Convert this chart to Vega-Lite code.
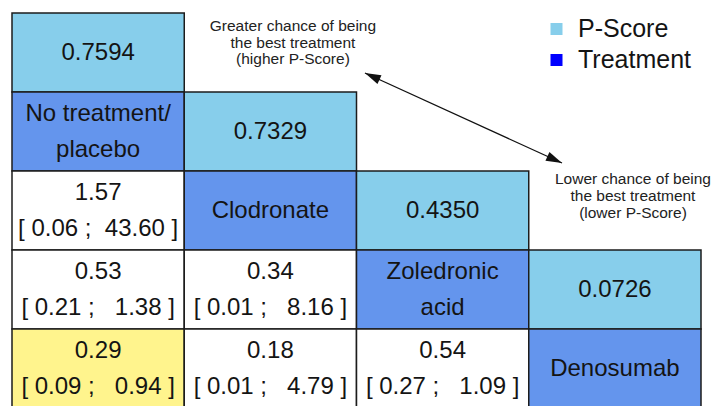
{
  "$schema": "https://vega.github.io/schema/vega-lite/v6.json",
  "width": 689,
  "height": 395,
  "autosize": {"type": "none"},
  "padding": {"left": 12, "top": 13, "right": 12, "bottom": 0},
  "background": "white",
  "config": {"view": {"stroke": null}, "font": "Liberation Sans"},
  "datasets": {
    "cells": [
      {"col": 0, "row": 0, "kind": "P-Score", "label": "0.7594"},
      {"col": 0, "row": 1, "kind": "Treatment", "label": ["No treatment/", "placebo"]},
      {"col": 1, "row": 1, "kind": "P-Score", "label": "0.7329"},
      {"col": 0, "row": 2, "kind": "Comparison", "label": ["1.57", "[\u00a00.06\u00a0;\u00a0\u00a043.60\u00a0]"]},
      {"col": 1, "row": 2, "kind": "Treatment", "label": "Clodronate"},
      {"col": 2, "row": 2, "kind": "P-Score", "label": "0.4350"},
      {"col": 0, "row": 3, "kind": "Comparison", "label": ["0.53", "[\u00a00.21\u00a0;\u00a0\u00a0\u00a01.38\u00a0]"]},
      {"col": 1, "row": 3, "kind": "Comparison", "label": ["0.34", "[\u00a00.01\u00a0;\u00a0\u00a0\u00a08.16\u00a0]"]},
      {"col": 2, "row": 3, "kind": "Treatment", "label": ["Zoledronic", "acid"]},
      {"col": 3, "row": 3, "kind": "P-Score", "label": "0.0726"},
      {"col": 0, "row": 4, "kind": "Significant", "label": ["0.29", "[\u00a00.09\u00a0;\u00a0\u00a0\u00a00.94\u00a0]"]},
      {"col": 1, "row": 4, "kind": "Comparison", "label": ["0.18", "[\u00a00.01\u00a0;\u00a0\u00a0\u00a04.79\u00a0]"]},
      {"col": 2, "row": 4, "kind": "Comparison", "label": ["0.54", "[\u00a00.27\u00a0;\u00a0\u00a0\u00a01.09\u00a0]"]},
      {"col": 3, "row": 4, "kind": "Treatment", "label": "Denosumab"}
    ]
  },
  "layer": [
    {
      "data": {"name": "cells"},
      "encoding": {
        "x": {"field": "col", "type": "ordinal", "scale": {"domain": [0, 1, 2, 3], "paddingInner": 0, "paddingOuter": 0}, "axis": null},
        "y": {"field": "row", "type": "ordinal", "scale": {"domain": [0, 1, 2, 3, 4], "paddingInner": 0, "paddingOuter": 0}, "axis": null}
      },
      "layer": [
        {
          "mark": {"type": "rect", "stroke": "#1c1c1c", "strokeWidth": 1.5},
          "encoding": {
            "fill": {
              "field": "kind",
              "type": "nominal",
              "scale": {
                "domain": ["P-Score", "Treatment", "Comparison", "Significant"],
                "range": ["#87CEEB", "#6495ED", "#FFFFFF", "#FFF48D"]
              },
              "legend": null
            }
          }
        },
        {
          "transform": [{"filter": "!isArray(datum.label)"}],
          "mark": {"type": "text", "fontSize": 24, "baseline": "middle", "align": "center", "color": "#141414"},
          "encoding": {"text": {"field": "label"}}
        },
        {
          "transform": [{"filter": "isArray(datum.label)"}],
          "mark": {"type": "text", "fontSize": 24, "lineHeight": 36, "baseline": "middle", "align": "center", "color": "#141414", "dy": -18},
          "encoding": {"text": {"field": "label"}}
        }
      ]
    },
    {
      "data": {"values": [{"note": "P-Score direction"}]},
      "layer": [
        {
          "mark": {"type": "rule", "color": "#111111", "strokeWidth": 1.2},
          "encoding": {
            "x": {"datum": 2.049, "type": "quantitative", "scale": {"domain": [0, 4], "nice": false, "zero": false}, "axis": null},
            "y": {"datum": 0.759, "type": "quantitative", "scale": {"domain": [0, 5], "nice": false, "zero": false, "reverse": true}, "axis": null},
            "x2": {"datum": 3.193},
            "y2": {"datum": 1.899}
          }
        },
        {
          "mark": {"type": "point", "shape": "M0,0L-2,-0.6L-2,0.6Z", "size": 256, "filled": true, "color": "#111111", "opacity": 1, "strokeWidth": 0, "angle": 24.56},
          "encoding": {
            "x": {"datum": 3.193, "type": "quantitative", "scale": {"domain": [0, 4], "nice": false, "zero": false}, "axis": null},
            "y": {"datum": 1.899, "type": "quantitative", "scale": {"domain": [0, 5], "nice": false, "zero": false, "reverse": true}, "axis": null}
          }
        },
        {
          "mark": {"type": "point", "shape": "M0,0L-2,-0.6L-2,0.6Z", "size": 256, "filled": true, "color": "#111111", "opacity": 1, "strokeWidth": 0, "angle": 204.56},
          "encoding": {
            "x": {"datum": 2.049, "type": "quantitative", "scale": {"domain": [0, 4], "nice": false, "zero": false}, "axis": null},
            "y": {"datum": 0.759, "type": "quantitative", "scale": {"domain": [0, 5], "nice": false, "zero": false, "reverse": true}, "axis": null}
          }
        },
        {
          "mark": {"type": "text", "fontSize": 15.5, "lineHeight": 16.5, "baseline": "alphabetic", "align": "center", "color": "#222222"},
          "encoding": {
            "x": {"datum": 1.631, "type": "quantitative", "scale": {"domain": [0, 4], "nice": false, "zero": false}, "axis": null},
            "y": {"datum": 0.228, "type": "quantitative", "scale": {"domain": [0, 5], "nice": false, "zero": false, "reverse": true}, "axis": null},
            "text": {"value": ["Greater chance of being", "the best treatment", "(higher P-Score)"]}
          }
        },
        {
          "mark": {"type": "text", "fontSize": 15.5, "lineHeight": 17, "baseline": "alphabetic", "align": "center", "color": "#222222"},
          "encoding": {
            "x": {"datum": 3.605, "type": "quantitative", "scale": {"domain": [0, 4], "nice": false, "zero": false}, "axis": null},
            "y": {"datum": 2.165, "type": "quantitative", "scale": {"domain": [0, 5], "nice": false, "zero": false, "reverse": true}, "axis": null},
            "text": {"value": ["Lower chance of being", "the best treatment", "(lower P-Score)"]}
          }
        }
      ]
    },
    {
      "data": {"values": [{"legend": "P-Score"}, {"legend": "Treatment"}]},
      "mark": {"type": "square", "opacity": 0},
      "encoding": {
        "color": {
          "field": "legend",
          "type": "nominal",
          "scale": {"domain": ["P-Score", "Treatment"], "range": ["#87CEEB", "#0000FF"]},
          "legend": {
            "title": null,
            "orient": "none",
            "legendX": 532,
            "legendY": 3.5,
            "symbolType": "square",
            "symbolSize": 144,
            "symbolOpacity": 1,
            "symbolStrokeWidth": 0,
            "labelFont": "Liberation Sans",
            "labelFontSize": 25,
            "labelColor": "#141414",
            "labelOffset": 9,
            "labelLimit": 0,
            "rowPadding": 5
          }
        }
      }
    }
  ],
  "resolve": {"scale": {"x": "independent", "y": "independent"}}
}
